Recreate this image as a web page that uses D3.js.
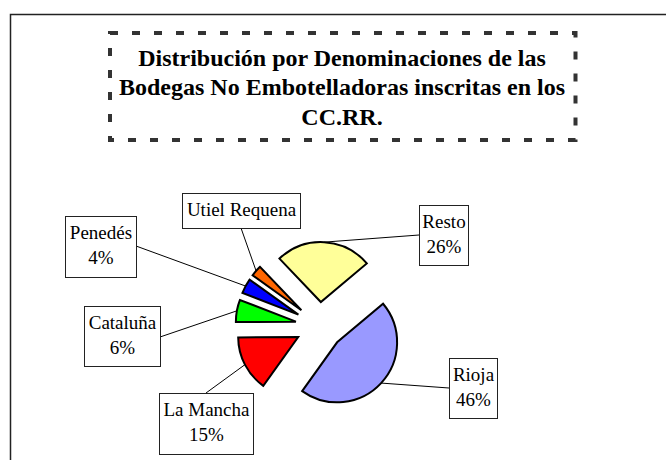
<!DOCTYPE html>
<html>
<head>
<meta charset="utf-8">
<script src="https://cdn.jsdelivr.net/npm/d3@7"></script>
<style>
  html, body { margin: 0; padding: 0; background: #fff; }
  svg { display: block; }
  text { font-family: "Liberation Serif", "Times New Roman", Times, "DejaVu Serif", serif; }
</style>
</head>
<body>
<svg id="chart" width="666" height="460"></svg>
<script>
// ---- data ----
const categories = ["Rioja", "La Mancha", "Cataluña", "Penedés", "Utiel Requena", "Resto"];
const values = [46, 15, 6, 4, 3, 26];
const colors = ["#9999FF", "#FF0000", "#00FF00", "#0000FF", "#FF6600", "#FFFF99"];
const showPercent = [true, true, true, true, false, true];
const titleLines = ["Distribución por Denominaciones de las", "Bodegas No Embotelladoras inscritas en los", "CC.RR."];

// ---- layout ----
const svg = d3.select("#chart");
const cx = 319.5, cy = 326, radius = 60, explode = 24;
const startDeg = 50;

// label box layout: x, y, w, h, anchor point of leader line on box
const boxes = [
  { x: 449, y: 358, w: 48, h: 60, ax: 449, ay: 388 },
  { x: 159, y: 393, w: 94, h: 61, ax: 206, ay: 393 },
  { x: 84,  y: 306, w: 76, h: 60, ax: 160, ay: 337 },
  { x: 65,  y: 216, w: 71, h: 61, ax: 136, ay: 246 },
  { x: 182, y: 193, w: 118, h: 35, ax: 241, ay: 228 },
  { x: 419, y: 205, w: 49, h: 60, ax: 419, ay: 235 }
];

// outer frame
svg.append("rect")
  .attr("x", 10.5).attr("y", 14.5)
  .attr("width", 700).attr("height", 500)
  .attr("fill", "none").attr("stroke", "#222").attr("stroke-width", 1.5);

// title box
svg.append("rect")
  .attr("x", 110).attr("y", 33)
  .attr("width", 465.5).attr("height", 107)
  .attr("fill", "none").attr("stroke", "#333")
  .attr("stroke-width", 4)
  .attr("stroke-dasharray", "8,14");

const title = svg.append("text")
  .attr("font-weight", "bold")
  .attr("font-size", 24)
  .attr("text-anchor", "middle")
  .attr("fill", "#000");
titleLines.forEach((t, i) => {
  title.append("tspan").attr("x", 342).attr("y", 65.5 + i * 29.5).text(t);
});

// ---- pie ----
const deg = Math.PI / 180;
const pie = d3.pie().sort(null).value(d => d)
  .startAngle(startDeg * deg).endAngle((startDeg + 360) * deg);
const arcs = pie(values);
const arc = d3.arc().innerRadius(0).outerRadius(radius);

const g = svg.append("g").attr("transform", `translate(${cx},${cy})`);

arcs.forEach((a, i) => {
  const mid = (a.startAngle + a.endAngle) / 2;
  const dx = explode * Math.sin(mid), dy = -explode * Math.cos(mid);
  g.append("path")
    .attr("d", arc(a))
    .attr("transform", `translate(${dx},${dy})`)
    .attr("fill", colors[i])
    .attr("stroke", "#000")
    .attr("stroke-width", 2)
    .attr("stroke-linejoin", "miter");

  const px = cx + dx + radius * Math.sin(mid);
  const py = cy + dy - radius * Math.cos(mid);
  const b = boxes[i];
  svg.append("line")
    .attr("x1", px).attr("y1", py)
    .attr("x2", b.ax).attr("y2", b.ay)
    .attr("stroke", "#000").attr("stroke-width", 1);
});

// label boxes
arcs.forEach((a, i) => {
  const b = boxes[i];
  svg.append("rect")
    .attr("x", b.x + 0.5).attr("y", b.y + 0.5)
    .attr("width", b.w).attr("height", b.h)
    .attr("fill", "#fff").attr("stroke", "#222").attr("stroke-width", 1);
  const t = svg.append("text")
    .attr("font-size", 19)
    .attr("text-anchor", "middle")
    .attr("fill", "#000");
  t.append("tspan").attr("x", b.x + b.w / 2 + 0.5).attr("y", b.y + 23).text(categories[i]);
  if (showPercent[i]) {
    t.append("tspan").attr("x", b.x + b.w / 2 + 0.5).attr("y", b.y + 48).text(d3.format(".0f")(a.value) + "%");
  }
});
</script>
</body>
</html>
